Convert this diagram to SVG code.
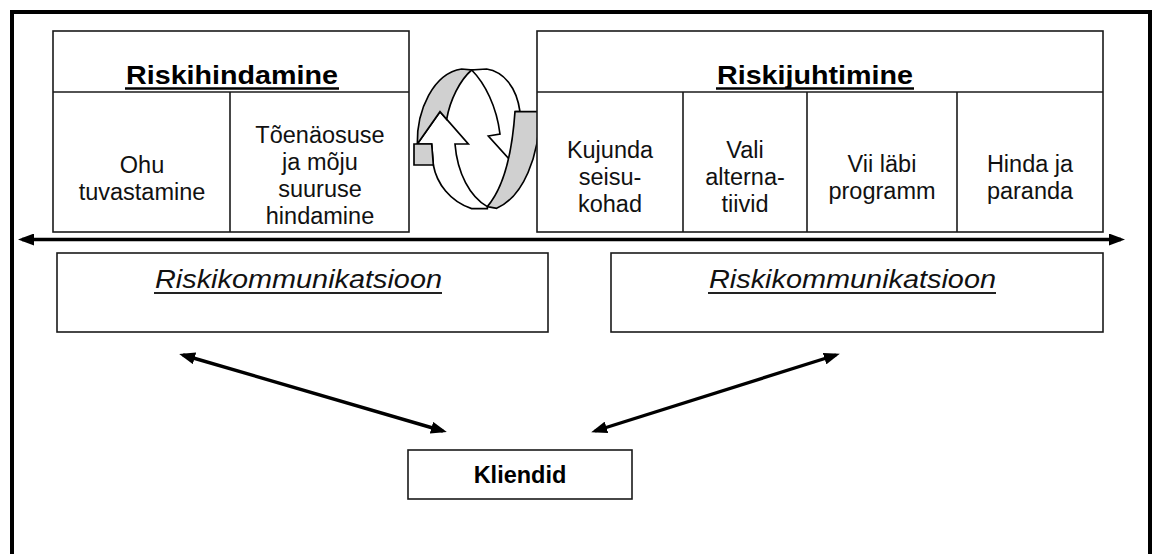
<svg xmlns="http://www.w3.org/2000/svg" width="1158" height="554" viewBox="0 0 1158 554">
<style>
.frame{fill:none;stroke:#000;stroke-width:4}
.box{fill:#fff;stroke:#1a1a1a;stroke-width:1.6}
.ln{stroke:#1a1a1a;stroke-width:1.6}
.hdr{font-family:"Liberation Sans",Arial,sans-serif;font-weight:bold;font-size:25px;fill:#000}
.body{font-family:"Liberation Sans",Arial,sans-serif;font-size:23.5px;fill:#111;text-anchor:middle}
.comm{font-family:"Liberation Sans",Arial,sans-serif;font-style:italic;font-size:25px;fill:#111}
.kl{font-family:"Liberation Sans",Arial,sans-serif;font-weight:bold;font-size:23.5px;fill:#000;text-anchor:middle}
.ul{stroke:#000;stroke-width:2.5}
.ulc{stroke:#222;stroke-width:1.8}
.arr{stroke:#000;stroke-width:3.4;fill:none}
.g{fill:#d0d0d0;stroke:#000;stroke-width:5}
.w{fill:#fff;stroke:#000;stroke-width:5}
</style>
<defs>
<marker id="ah" viewBox="0 0 16 12" refX="12" refY="6" markerWidth="16" markerHeight="12" markerUnits="userSpaceOnUse" orient="auto-start-reverse">
<path d="M0,0 L16,6 L0,12 Z" fill="#000"/>
</marker>
</defs>
<path class="frame" d="M12,556 V12 H1150 V556"/>

<g id="riskihindamine">
<rect class="box" x="53" y="31" width="356" height="201"/>
<line class="ln" x1="53" y1="92" x2="409" y2="92"/>
<line class="ln" x1="230" y1="92" x2="230" y2="232"/>
<text class="hdr" x="126" y="84" textLength="212" lengthAdjust="spacingAndGlyphs">Riskihindamine</text>
<line class="ul" x1="125" y1="88.5" x2="339" y2="88.5"/>
<text class="body"><tspan x="142" y="173">Ohu</tspan><tspan x="142" y="200">tuvastamine</tspan></text>
<text class="body"><tspan x="320" y="143">Tõenäosuse</tspan><tspan x="320" y="170">ja mõju</tspan><tspan x="320" y="197">suuruse</tspan><tspan x="320" y="224">hindamine</tspan></text>
</g>

<g id="tsykkel" transform="translate(400,50) scale(0.3333)">
<path class="w" d="M215,60 C255,100 290,170 300,252 L265,258 L330,330 C340,280 345,230 348,185 L360,185 C350,110 310,65 260,57 Z"/>
<path class="g" d="M345,185 L420,185 C418,320 370,440 290,475 L262,470 C305,420 335,330 345,185 Z"/>
<path class="w" d="M52,282 L120,185 L205,282 L165,282 C172,370 210,440 262,470 L262,476 L215,476 C150,455 110,400 100,345 L95,282 Z"/>
<path class="g" d="M52,282 C50,180 100,70 185,57 L215,60 C180,90 150,150 140,208 L120,185 Z"/>
<path class="g" d="M42,282 L95,282 L100,345 L42,345 Z"/>
</g>

<g id="riskijuhtimine">
<rect class="box" x="537" y="31" width="566" height="201"/>
<line class="ln" x1="537" y1="92" x2="1103" y2="92"/>
<line class="ln" x1="683" y1="92" x2="683" y2="232"/>
<line class="ln" x1="807" y1="92" x2="807" y2="232"/>
<line class="ln" x1="957" y1="92" x2="957" y2="232"/>
<text class="hdr" x="717" y="84" textLength="196" lengthAdjust="spacingAndGlyphs">Riskijuhtimine</text>
<line class="ul" x1="716" y1="88.5" x2="914" y2="88.5"/>
<text class="body"><tspan x="610" y="158">Kujunda</tspan><tspan x="610" y="185">seisu-</tspan><tspan x="610" y="212">kohad</tspan></text>
<text class="body"><tspan x="745" y="158">Vali</tspan><tspan x="745" y="185">alterna-</tspan><tspan x="745" y="212">tiivid</tspan></text>
<text class="body"><tspan x="882" y="172">Vii läbi</tspan><tspan x="882" y="199">programm</tspan></text>
<text class="body"><tspan x="1030" y="172">Hinda ja</tspan><tspan x="1030" y="199">paranda</tspan></text>
</g>

<g id="kommunikatsioon-1">
<rect class="box" x="57" y="253" width="491" height="79"/>
<text class="comm" x="155" y="288" textLength="287" lengthAdjust="spacingAndGlyphs">Riskikommunikatsioon</text>
<line class="ulc" x1="154" y1="293" x2="442" y2="293"/>
</g>

<g id="kommunikatsioon-2">
<rect class="box" x="611" y="253" width="492" height="79"/>
<text class="comm" x="709" y="288" textLength="287" lengthAdjust="spacingAndGlyphs">Riskikommunikatsioon</text>
<line class="ulc" x1="708" y1="293" x2="996" y2="293"/>
</g>

<g id="kliendid">
<rect class="box" x="408" y="450" width="224" height="49"/>
<text class="kl" x="520" y="483">Kliendid</text>
</g>

<g id="connectors">
<line class="arr" x1="22" y1="239.5" x2="1121" y2="239.5" marker-start="url(#ah)" marker-end="url(#ah)"/>
<line class="arr" x1="183" y1="355" x2="443" y2="431" marker-start="url(#ah)" marker-end="url(#ah)"/>
<line class="arr" x1="836" y1="355" x2="595" y2="431" marker-start="url(#ah)" marker-end="url(#ah)"/>
</g>
</svg>
